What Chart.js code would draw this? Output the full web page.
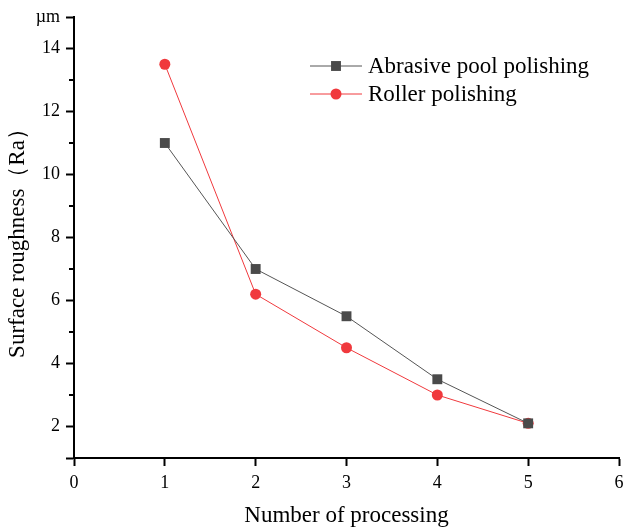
<!DOCTYPE html>
<html>
<head>
<meta charset="utf-8">
<script src="https://cdn.jsdelivr.net/npm/chart.js@4/dist/chart.umd.min.js"></script>
<style>
html,body{margin:0;padding:0;background:#fff;}
#wrap{width:626px;height:530px;position:relative;}
</style>
</head>
<body>
<div id="wrap"><canvas id="c" width="626" height="530"></canvas></div>
<script>
const processingCounts = [1, 2, 3, 4, 5];
const abrasivePool = [11.0, 7.0, 5.5, 3.5, 2.1];
const rollerPolishing = [13.5, 6.2, 4.5, 3.0, 2.1];
const seriesNames = ['Abrasive pool polishing', 'Roller polishing'];
const xTitle = 'Number of processing';
const yTitle = 'Surface roughness\uFF08Ra\uFF09';
const yUnit = '\u00B5m';

const FONT = '"Liberation Serif", "Times New Roman", serif';

const minorTicks = {
  id: 'minorTicks',
  afterDraw(chart) {
    const ctx = chart.ctx;
    const y = chart.scales.y;
    const left = chart.chartArea.left;
    ctx.save();
    ctx.strokeStyle = '#000';
    ctx.lineWidth = 2;
    y.ticks.forEach(t => {
      if (t.value % 2 !== 0 && t.value !== 15 && t.value !== 1) {
        const py = Math.round(y.getPixelForValue(t.value));
        ctx.beginPath();
        ctx.moveTo(left - 5, py);
        ctx.lineTo(left, py);
        ctx.stroke();
      }
    });
    ctx.restore();
  }
};

const customLegend = {
  id: 'customLegend',
  afterDraw(chart) {
    const ctx = chart.ctx;
    const x0 = 310, x1 = 362, tx = 368;
    const rows = [66, 94];
    ctx.save();
    chart.data.datasets.forEach((ds, i) => {
      const yy = rows[i];
      ctx.strokeStyle = ds.borderColor;
      ctx.lineWidth = 1;
      ctx.beginPath();
      ctx.moveTo(x0, yy);
      ctx.lineTo(x1, yy);
      ctx.stroke();
      ctx.fillStyle = ds.pointBackgroundColor;
      ctx.beginPath();
      if (ds.pointStyle === 'rect') {
        const s = Math.SQRT1_2 * ds.pointRadius;
        ctx.rect((x0 + x1) / 2 - s, yy - s, 2 * s, 2 * s);
      } else {
        ctx.arc((x0 + x1) / 2, yy, ds.pointRadius, 0, Math.PI * 2);
      }
      ctx.fill();
      ctx.fillStyle = '#000';
      ctx.font = '23px ' + FONT;
      ctx.textBaseline = 'middle';
      ctx.textAlign = 'left';
      ctx.fillText(ds.label, tx, yy + 1);
    });
    ctx.restore();
  }
};

new Chart(document.getElementById('c'), {
  type: 'line',
  data: {
    datasets: [
      {
        label: seriesNames[0],
        data: processingCounts.map((x, i) => ({x, y: abrasivePool[i]})),
        borderColor: '#555555',
        borderWidth: 1,
        backgroundColor: '#4a4a4a',
        pointStyle: 'rect',
        pointRadius: 7,
        pointBackgroundColor: '#4a4a4a',
        pointBorderWidth: 0,
        tension: 0
      },
      {
        label: seriesNames[1],
        data: processingCounts.map((x, i) => ({x, y: rollerPolishing[i]})),
        borderColor: '#f0393d',
        borderWidth: 1,
        backgroundColor: '#f0393d',
        pointStyle: 'circle',
        pointRadius: 5.5,
        pointBackgroundColor: '#f0393d',
        pointBorderWidth: 0,
        tension: 0
      }
    ]
  },
  options: {
    responsive: false,
    animation: false,
    layout: {padding: {left: 4, right: -3, top: 17, bottom: 0}},
    plugins: {legend: {display: false}, tooltip: {enabled: false}},
    scales: {
      x: {
        type: 'linear',
        min: 0, max: 6,
        ticks: {stepSize: 1, color: '#000', font: {family: FONT, size: 18}, padding: 6, maxRotation: 0},
        grid: {drawOnChartArea: false, drawTicks: true, tickLength: 8, color: '#000', tickWidth: 2},
        border: {display: true, color: '#000', width: 2},
        title: {display: true, text: xTitle, color: '#000', font: {family: FONT, size: 23}, padding: {top: 12, bottom: 0}},
        afterFit(scale) { scale.height = 72; scale.paddingRight = 1; scale.paddingLeft = 0; }
      },
      y: {
        type: 'linear',
        min: 1, max: 15,
        ticks: {
          stepSize: 1, color: '#000', font: {family: FONT, size: 18}, padding: 6,
          autoSkip: false,
          callback: v => v === 15 ? yUnit : (v % 2 === 0 ? String(v) : '')
        },
        grid: {
          drawOnChartArea: false, drawTicks: true, tickLength: 8, tickWidth: 2,
          tickColor: c => (c.tick && c.tick.value % 2 !== 0 && c.tick.value !== 15 && c.tick.value !== 1) ? 'rgba(0,0,0,0)' : '#000'
        },
        border: {display: true, color: '#000', width: 2},
        title: {display: true, text: yTitle, color: '#000', font: {family: FONT, size: 23}, padding: {top: 0, bottom: 4}},
        afterFit(scale) { scale.width = 70; }
      }
    }
  },
  plugins: [minorTicks, customLegend]
});
</script>
</body>
</html>
